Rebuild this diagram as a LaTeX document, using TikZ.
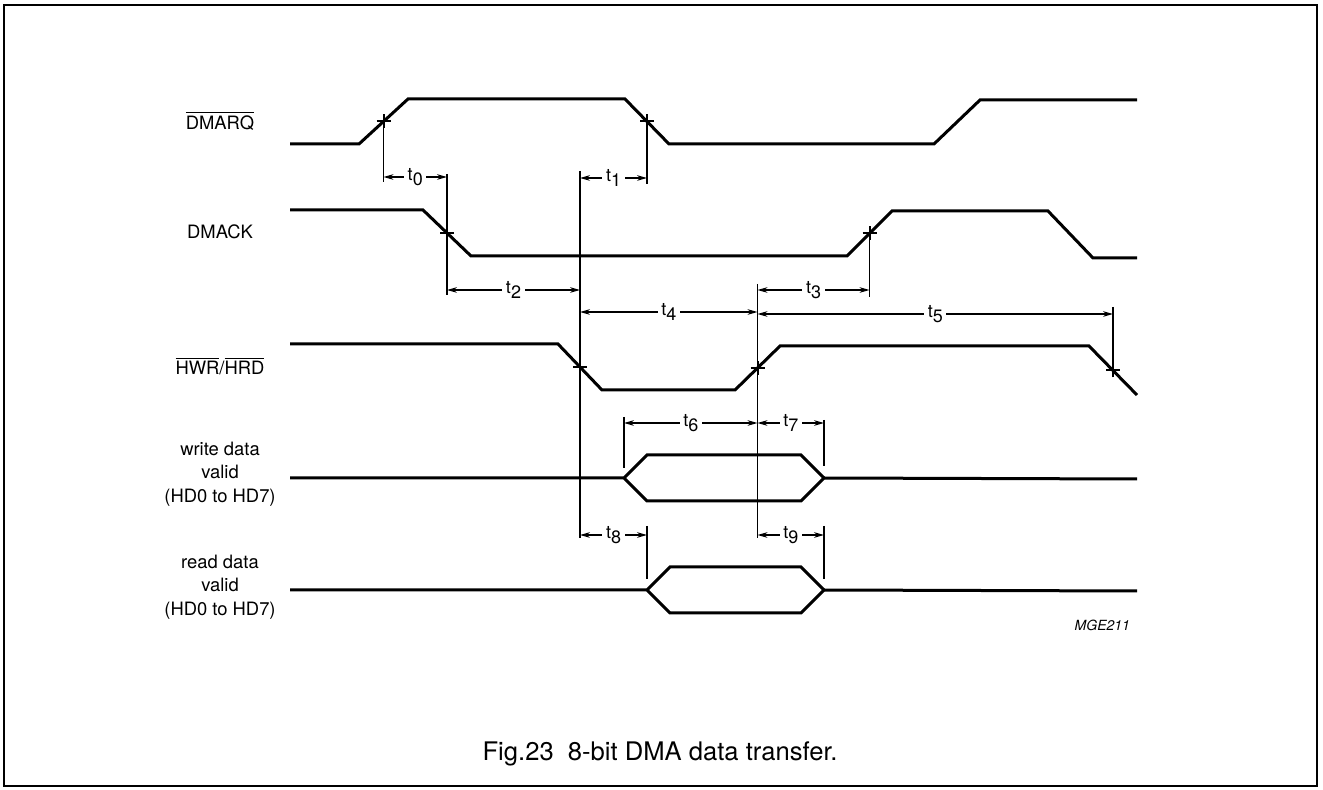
\documentclass[tikz,border=0pt]{standalone}
\usepackage{fontspec}
\setmainfont{TeX Gyre Heros}
\usetikzlibrary{arrows.meta}
\tikzset{
	>={Stealth[length=5pt,width=2.8pt]},
}
\newcommand{\tlab}[1]{t\raisebox{-0.55ex}{#1}}

\begin{document}
\begin{tikzpicture}[x=0.5pt, y=-0.5pt,
	signal/.style = {line width=1.5pt, line join=miter},
	guide/.style = {line width=0.55pt},
	crossline/.style = {line width=1pt},
	dim/.style = {<->, line width=0.6pt},
	tlabel/.style = {fill=white, inner sep=1.8pt, font=\fontsize{9}{10}\selectfont},
	signame/.style = {align=center, font=\fontsize{9.2}{11.8}\selectfont}]
\useasboundingbox (0,0) rectangle (1323,790);
\draw[line width=1pt] (4,5) rectangle (1317,786);
\node[signame] (dmarq) at (220,121) {$\overline{\mbox{DMARQ}}$};
\node[signame] (dmack) at (220,232) {DMACK};
\node[signame] (hwrhrd) at (220,366) {$\overline{\mbox{HWR}}$/$\overline{\mbox{HRD}}$};
\node[signame] (wdata) at (220,474) {write data\\valid\\(HD0 to HD7)};
\node[signame] (rdata) at (220,587) {read data\\valid\\(HD0 to HD7)};
\node[anchor=east, font=\itshape\fontsize{7}{8}\selectfont] (code) at (1137,625) {MGE211};
\node[font=\fontsize{12.8}{15}\selectfont] (caption) at (660,754) {Fig.23~~8-bit DMA data transfer.};
\draw[signal] (290,144) -- (359,144) -- (408,99) coordinate[pos=0.5] (qup) -- (625,99)
	-- (669,144) coordinate[pos=0.5] (qdown) -- (934,144) -- (980,100) -- (1137,100);
\draw[signal] (290,210) -- (423,210) -- (471,256) coordinate[pos=0.5] (kdown) -- (847,256)
	-- (892,211) coordinate[pos=0.5] (kup) -- (1048,211) -- (1093,258) -- (1137,258);
\draw[signal] (290,344) -- (558,344) -- (602,390) coordinate[pos=0.5] (hdown) -- (735,390)
	-- (780,346) coordinate[pos=0.5] (hup) -- (1089,346) -- (1137,395) coordinate[pos=0.5] (hend);
\draw[signal] (290,478) -- (624,478) coordinate (wl) -- (647,455) -- (801,455) -- (824,478) coordinate (wr)
	-- (801,501) -- (647,501) -- (wl);
\draw[signal] (wr) -- (1137,479);
\draw[signal] (290,590) -- (647,590) coordinate (rl) -- (670,567) -- (801,567) -- (824,590) coordinate (rr)
	-- (801,613) -- (670,613) -- (rl);
\draw[signal] (rr) -- (1137,591);
\foreach \m in {qup,qdown,kdown,kup,hdown,hup,hend}
	\draw[crossline] ([xshift=-3.5pt]\m) -- ([xshift=3.5pt]\m) ([yshift=-3.5pt]\m) -- ([yshift=3.5pt]\m);
\draw[guide] (qup) -- (qup |- 0,182);
\draw[guide] (qdown) -- (qdown |- 0,184);
\draw[guide] (kdown |- 0,174) -- (kdown |- 0,295);
\draw[guide] (kup) -- (kup |- 0,297);
\draw[guide] (hdown |- 0,171) -- (hdown |- 0,538);
\draw[guide] (hup |- 0,284) -- (hup |- 0,538);
\draw[guide] (hend |- 0,307) -- (hend);
\draw[guide] (wl |- 0,417) -- (wl |- 0,468);
\draw[guide] (wr |- 0,420) -- (wr |- 0,466);
\draw[guide] (rl |- 0,526) -- (rl |- 0,579);
\draw[guide] (rr |- 0,526) -- (rr |- 0,579);
\draw[dim] (qup |- 0,177) -- node[tlabel] {\tlab{0}} (kdown |- 0,177);
\draw[dim] (hdown |- 0,178) -- node[tlabel] {\tlab{1}} (qdown |- 0,178);
\draw[dim] (kdown |- 0,290) -- node[tlabel] {\tlab{2}} (hdown |- 0,290);
\draw[dim] (hup |- 0,290) -- node[tlabel] {\tlab{3}} (kup |- 0,290);
\draw[dim] (hdown |- 0,312) -- node[tlabel] {\tlab{4}} (hup |- 0,312);
\draw[dim] (hup |- 0,314) -- node[tlabel] {\tlab{5}} (hend |- 0,314);
\draw[dim] (wl |- 0,423) -- node[tlabel] {\tlab{6}} (hup |- 0,423);
\draw[dim] (hup |- 0,423) -- node[tlabel] {\tlab{7}} (wr |- 0,423);
\draw[dim] (hdown |- 0,535) -- node[tlabel] {\tlab{8}} (rl |- 0,535);
\draw[dim] (hup |- 0,535) -- node[tlabel] {\tlab{9}} (rr |- 0,535);
\end{tikzpicture}
\end{document}
